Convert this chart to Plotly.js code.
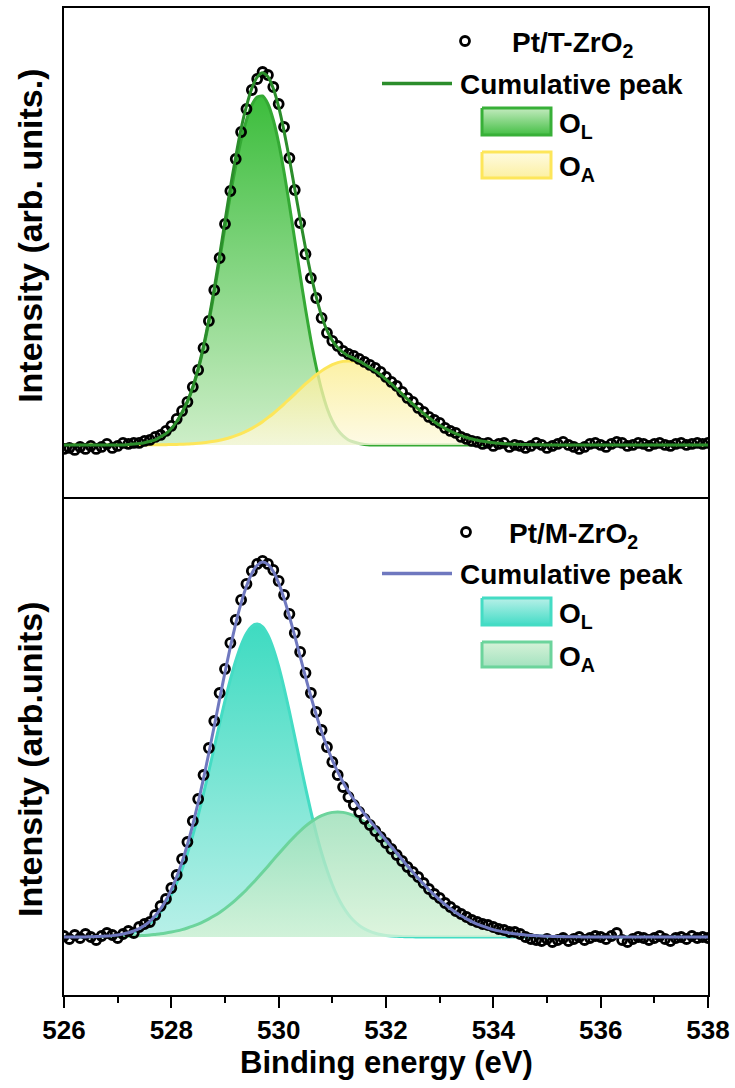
<!DOCTYPE html>
<html>
<head>
<meta charset="utf-8">
<script src="https://cdn.plot.ly/plotly-3.0.1.min.js"></script>
<style>
  html, body { margin: 0; padding: 0; background: #ffffff; }
  #chart { width: 735px; height: 1088px; }
</style>
</head>
<body>
<div id="chart"></div>
<script>
// Binding energy grid (eV), 0.1 eV steps
const energy = [
  526.0,526.1,526.2,526.3,526.4,526.5,526.6,526.7,526.8,526.9,
  527.0,527.1,527.2,527.3,527.4,527.5,527.6,527.7,527.8,527.9,
  528.0,528.1,528.2,528.3,528.4,528.5,528.6,528.7,528.8,528.9,
  529.0,529.1,529.2,529.3,529.4,529.5,529.6,529.7,529.8,529.9,
  530.0,530.1,530.2,530.3,530.4,530.5,530.6,530.7,530.8,530.9,
  531.0,531.1,531.2,531.3,531.4,531.5,531.6,531.7,531.8,531.9,
  532.0,532.1,532.2,532.3,532.4,532.5,532.6,532.7,532.8,532.9,
  533.0,533.1,533.2,533.3,533.4,533.5,533.6,533.7,533.8,533.9,
  534.0,534.1,534.2,534.3,534.4,534.5,534.6,534.7,534.8,534.9,
  535.0,535.1,535.2,535.3,535.4,535.5,535.6,535.7,535.8,535.9,
  536.0,536.1,536.2,536.3,536.4,536.5,536.6,536.7,536.8,536.9,
  537.0,537.1,537.2,537.3,537.4,537.5,537.6,537.7,537.8,537.9,
  538.0
];

// Pt/T-ZrO2 : measured O 1s intensity (background subtracted, a.u.)
const tMeasured = [
  -4,-3,-5,-2,-4,-1,-4,-2,1,-3,
  -1,2,1,2,2,4,5,8,10,14,
  19,26,34,43,58,75,97,124,155,187,
  221,254,286,313,336,355,366,373,370,358,
  341,318,287,255,222,191,167,147,127,112,
  104,99,94,91,89,86,83,80,77,73,
  68,63,59,53,47,43,37,33,28,25,
  22,17,14,12,8,6,4,3,1,2,
  -1,1,2,-2,0,-1,-3,-1,2,0,
  -3,-1,1,3,0,-2,-4,-2,1,2,
  0,-2,1,3,2,-1,0,2,1,-1,
  1,2,0,-1,1,2,0,1,2,1,
  2
];
// Pt/T-ZrO2 : lattice oxygen component O_L
const tLattice = [
  0,0,0,0,0,0,0,0,0,0,
  0,0,0.5,0.9,1.4,2.2,3.5,5,8,11,
  16,23,32,43,57,75,97,123,153,185,
  218,250,279,305,325,340,348,349,341,325,
  302,273,240,205,170,136,105,78,55,37,
  24,15,9,5,3,1.5,0.5,0,0,0,
  0,0,0,0,0,0,0,0,0,0,
  0,0,0,0,0,0,0,0,0,0,
  0,0,0,0,0,0,0,0,0,0,
  0,0,0,0,0,0,0,0,0,0,
  0,0,0,0,0,0,0,0,0,0,
  0,0,0,0,0,0,0,0,0,0,
  0
];
// Pt/T-ZrO2 : adsorbed oxygen component O_A
const tAdsorbed = [
  0,0,0,0,0,0,0,0,0,0,
  0,0,0,0,0,0,0.1,0.1,0.2,0.3,
  0.4,0.5,0.7,0.9,1.3,1.7,2.2,2.9,3.7,4.7,
  6.0,7.5,9.3,11.4,13.8,16.6,19.8,23.3,27.3,31.5,
  36.1,40.9,45.9,50.9,56.0,61.0,65.7,70.2,74.1,77.5,
  80.3,82.3,83.6,84,83.6,82.3,80.3,77.5,74.1,70.2,
  65.7,61.0,56.0,50.9,45.9,40.9,36.1,31.5,27.3,23.3,
  19.8,16.6,13.8,11.4,9.3,7.5,6.0,4.7,3.7,2.9,
  2.2,1.7,1.3,0.9,0.7,0.5,0.4,0.3,0.2,0.1,
  0,0,0,0,0,0,0,0,0,0,
  0,0,0,0,0,0,0,0,0,0,
  0,0,0,0,0,0,0,0,0,0,
  0
];

// Pt/M-ZrO2 : measured O 1s intensity (background subtracted, a.u.)
const mMeasured = [
  1,-2,2,-1,3,0,-3,1,4,2,
  -1,3,6,4,10,13,15,22,31,38,
  49,62,78,95,116,138,162,189,216,244,
  268,294,317,337,353,366,373,376,373,367,
  356,342,323,304,285,264,244,225,207,190,
  175,162,150,140,132,125,118,112,106,100,
  94,88,82,76,70,65,60,54,48,43,
  39,34,30,26,23,20,17,15,13,12,
  10,8,7,5,5,3,0,-2,-3,-4,
  -2,-5,-3,-1,-4,-2,0,-3,-1,1,
  0,-2,1,4,-3,-5,-2,0,-1,-3,
  -1,1,-2,-4,-1,0,-2,1,-1,0,
  -1
];
// Pt/M-ZrO2 : lattice oxygen component O_L
const mLattice = [
  0,0,0,0,0.1,0.17,0.28,0.44,0.7,1.05,
  1.6,2.4,3.5,5.0,7.1,10.0,13.7,18.7,24.9,32.7,
  42.4,54.0,67.7,83.6,101.6,121.6,143.3,166.2,189.8,213.5,
  236.3,257.5,276.2,291.7,303.4,310.6,313,310.2,301.8,288.3,
  270.5,249.1,225.3,200.1,174.5,149.4,125.6,103.7,84.0,66.9,
  52.3,40.1,30.2,22.4,16.2,11.6,8.1,5.6,3.8,2.5,
  1.6,1.0,0.7,0.4,0.25,0.15,0.1,0,0,0,
  0,0,0,0,0,0,0,0,0,0,
  0,0,0,0,0,0,0,0,0,0,
  0,0,0,0,0,0,0,0,0,0,
  0,0,0,0,0,0,0,0,0,0,
  0,0,0,0,0,0,0,0,0,0,
  0
];
// Pt/M-ZrO2 : adsorbed oxygen component O_A
const mAdsorbed = [
  0,0,0,0,0,0.1,0.14,0.19,0.25,0.33,
  0.44,0.6,0.75,1.0,1.3,1.6,2.0,2.6,3.2,4.0,
  5.0,6.1,7.4,9.0,10.8,12.9,15.3,18.1,21.2,24.6,
  28.4,32.6,37.2,42.1,47.3,52.9,58.7,64.7,70.8,77.1,
  83.3,89.3,95.2,100.8,106.0,110.8,114.9,118.5,121.3,123.3,
  124.6,125,124.6,123.3,121.3,118.5,114.9,110.8,106.0,100.8,
  95.2,89.3,83.3,77.1,70.8,64.7,58.7,52.9,47.3,42.1,
  37.2,32.6,28.4,24.6,21.2,18.1,15.3,12.9,10.8,9.0,
  7.4,6.1,5.0,4.0,3.2,2.6,2.0,1.6,1.3,1.0,
  0.75,0.6,0.44,0.33,0.25,0.19,0.14,0.1,0,0,
  0,0,0,0,0,0,0,0,0,0,
  0,0,0,0,0,0,0,0,0,0,
  0
];

const xTickVals = [526, 528, 530, 532, 534, 536, 538];
const xTickText = ['526', '528', '530', '532', '534', '536', '538'];

// ---------------------------------------------------------------------------
const FONT = 'Liberation Sans, Arial, Helvetica, sans-serif';

// cumulative fit = sum of the two components
const addArrays = (a, b) => a.map((v, i) => v + b[i]);
const tCumulative = addArrays(tLattice, tAdsorbed);
const mCumulative = addArrays(mLattice, mAdsorbed);

const panels = [
  {
    xa: 'x2', ya: 'y2',
    measured: tMeasured, lattice: tLattice, adsorbed: tAdsorbed, cumulative: tCumulative,
    latLine: '#34a934', latFill: [[0, '#cdeec8'], [1, '#3cbd3c']],
    adsLine: '#fde65a', adsFill: [[0, 'rgba(253,249,222,0.78)'], [1, 'rgba(251,237,140,0.78)']],
    cumLine: '#2b8d2b'
  },
  {
    xa: 'x', ya: 'y',
    measured: mMeasured, lattice: mLattice, adsorbed: mAdsorbed, cumulative: mCumulative,
    latLine: '#44dcc4', latFill: [[0, '#b8f0e8'], [1, '#3edbc1']],
    adsLine: '#6cd49c', adsFill: [[0, 'rgba(214,242,214,0.82)'], [1, 'rgba(155,223,184,0.82)']],
    cumLine: '#6f78bf'
  }
];

const dataMarker = { symbol: 'circle-open', size: 9, color: '#000000', line: { width: 2.8, color: '#000000' } };

const traces = [];
panels.forEach(p => {
  traces.push({
    x: energy, y: p.lattice, xaxis: p.xa, yaxis: p.ya,
    type: 'scatter', mode: 'lines', hoverinfo: 'skip', showlegend: false,
    line: { color: p.latLine, width: 3, shape: 'spline', smoothing: 0.6 },
    fill: 'tozeroy', fillgradient: { type: 'vertical', colorscale: p.latFill }
  });
  traces.push({
    x: energy, y: p.adsorbed, xaxis: p.xa, yaxis: p.ya,
    type: 'scatter', mode: 'lines', hoverinfo: 'skip', showlegend: false,
    line: { color: p.adsLine, width: 3, shape: 'spline', smoothing: 0.6 },
    fill: 'tozeroy', fillgradient: { type: 'vertical', colorscale: p.adsFill }
  });
  traces.push({
    x: energy, y: p.measured, xaxis: p.xa, yaxis: p.ya,
    type: 'scatter', mode: 'markers', hoverinfo: 'skip', showlegend: false,
    marker: dataMarker
  });
  traces.push({
    x: energy, y: p.cumulative, xaxis: p.xa, yaxis: p.ya,
    type: 'scatter', mode: 'lines', hoverinfo: 'skip', showlegend: false,
    line: { color: p.cumLine, width: 3, shape: 'spline', smoothing: 0.6 }
  });
});

// ---- key (drawn on an overlay axis pair measured in page pixels) ----------
const keyMarkerX = [465, 466];
const keyMarkerY = [41, 532];
traces.push({
  x: keyMarkerX, y: keyMarkerY, xaxis: 'x3', yaxis: 'y3',
  type: 'scatter', mode: 'markers', hoverinfo: 'skip', showlegend: false, cliponaxis: false,
  marker: dataMarker
});
const keyLines = [
  { x0: 382, x1: 452, y: 83.5, color: panels[0].cumLine },
  { x0: 382, x1: 452, y: 573.5, color: panels[1].cumLine }
];
keyLines.forEach(k => traces.push({
  x: [k.x0, k.x1], y: [k.y, k.y], xaxis: 'x3', yaxis: 'y3',
  type: 'scatter', mode: 'lines', hoverinfo: 'skip', showlegend: false,
  line: { color: k.color, width: 3.5 }
}));
const keyBoxes = [
  { x0: 482, x1: 551, y0: 108, y1: 135, line: '#38b038', top: '#45bf45', bottom: '#c3ebbf' },
  { x0: 482, x1: 551, y0: 152, y1: 178, line: '#fde65a', top: '#fcf0a2', bottom: '#fefbe2' },
  { x0: 482, x1: 551, y0: 598, y1: 625, line: '#44dcc4', top: '#44dcc6', bottom: '#b8f0e8' },
  { x0: 482, x1: 551, y0: 642, y1: 667, line: '#6cd49c', top: '#a3e2bf', bottom: '#d6f2d8' }
];
keyBoxes.forEach(b => traces.push({
  x: [b.x0, b.x1, b.x1, b.x0, b.x0], y: [b.y0, b.y0, b.y1, b.y1, b.y0],
  xaxis: 'x3', yaxis: 'y3',
  type: 'scatter', mode: 'lines', hoverinfo: 'skip', showlegend: false,
  line: { color: b.line, width: 3 },
  fill: 'toself', fillgradient: { type: 'vertical', colorscale: [[0, b.top], [1, b.bottom]] }
}));

const keyFont = { family: FONT, size: 28, color: '#000000', weight: 700 };
const keyText = [
  { text: 'Pt/T-ZrO<sub>2</sub>', x: 510, y: 44 },
  { text: 'Cumulative peak', x: 458, y: 84 },
  { text: 'O<sub>L</sub>', x: 557, y: 125 },
  { text: 'O<sub>A</sub>', x: 557, y: 168 },
  { text: 'Pt/M-ZrO<sub>2</sub>', x: 507, y: 535 },
  { text: 'Cumulative peak', x: 458, y: 574 },
  { text: 'O<sub>L</sub>', x: 557, y: 615 },
  { text: 'O<sub>A</sub>', x: 557, y: 658 }
];

const annotations = keyText.map(k => ({
  text: k.text, x: k.x, y: k.y, xref: 'x3', yref: 'y3',
  xanchor: 'left', yanchor: 'middle', showarrow: false, font: keyFont
}));
const yTitleFont = { family: FONT, size: 34, color: '#000000', weight: 700 };
const xTitleFont = { family: FONT, size: 31, color: '#000000', weight: 700 };
annotations.push(
  { text: 'Intensity (arb. units.)', xref: 'paper', yref: 'paper', x: -0.053, y: 0.769,
    textangle: -90, showarrow: false, xanchor: 'center', yanchor: 'middle', font: yTitleFont },
  { text: 'Intensity (arb.units)', xref: 'paper', yref: 'paper', x: -0.053, y: 0.239,
    textangle: -90, showarrow: false, xanchor: 'center', yanchor: 'middle', font: yTitleFont },
  { text: 'Binding energy (eV)', xref: 'paper', yref: 'paper', x: 0.5, y: -0.068,
    showarrow: false, xanchor: 'center', yanchor: 'middle', font: xTitleFont }
);

const split = 0.5046;
const frame = { showline: true, linecolor: '#000000', linewidth: 1.6, showgrid: false, zeroline: false };

const layout = {
  width: 735, height: 1088,
  margin: { l: 64, r: 27, t: 8, b: 93, pad: 0 },
  paper_bgcolor: '#ffffff', plot_bgcolor: 'rgba(0,0,0,0)',
  showlegend: false,
  font: { family: FONT, color: '#000000' },
  xaxis: Object.assign({}, frame, {
    domain: [0, 1], anchor: 'y', range: [526, 538], mirror: false,
    tickmode: 'array', tickvals: xTickVals, ticktext: xTickText,
    ticks: 'outside', ticklen: 11, tickwidth: 2, tickcolor: '#000000',
    tickfont: { family: FONT, size: 26, color: '#000000', weight: 700 },
    minor: { tickmode: 'linear', tick0: 527, dtick: 2, ticks: 'outside', ticklen: 6, tickwidth: 2, tickcolor: '#000000', showgrid: false }
  }),
  yaxis: Object.assign({}, frame, {
    domain: [0, split], anchor: 'x', range: [-58, 440], mirror: true, showticklabels: false, ticks: ''
  }),
  xaxis2: Object.assign({}, frame, {
    domain: [0, 1], anchor: 'y2', range: [526, 538], mirror: true, showticklabels: false, ticks: ''
  }),
  yaxis2: Object.assign({}, frame, {
    domain: [split, 1], anchor: 'x2', range: [-52, 437], mirror: true, showticklabels: false, ticks: ''
  }),
  xaxis3: { domain: [0, 1], anchor: 'y3', range: [64, 708], visible: false, fixedrange: true },
  yaxis3: { domain: [0, 1], anchor: 'x3', range: [995, 8], visible: false, fixedrange: true },
  annotations: annotations
};

Plotly.newPlot('chart', traces, layout, { staticPlot: true, displayModeBar: false });
</script>
</body>
</html>
